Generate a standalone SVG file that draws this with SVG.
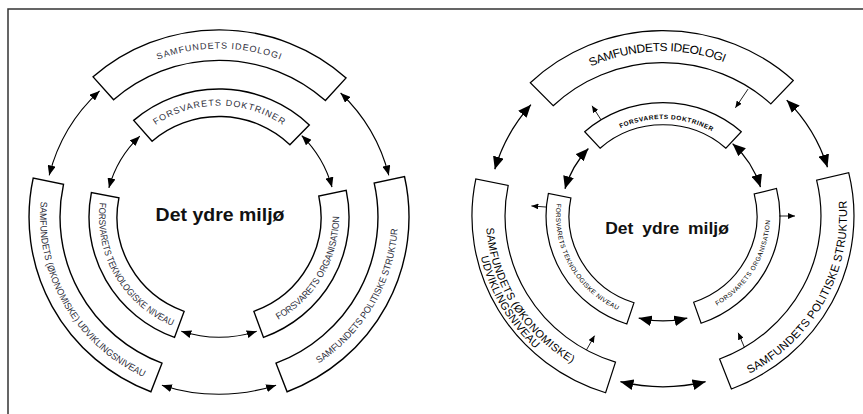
<svg xmlns="http://www.w3.org/2000/svg" width="863" height="414" viewBox="0 0 863 414">
<style>
  .sec{fill:#fff;stroke:#000;stroke-width:1.4;stroke-linejoin:miter}
  .sec2{fill:#fff;stroke:#000;stroke-width:1.2;stroke-linejoin:miter}
  .lt{font-family:"Liberation Sans",Arial,sans-serif;fill:#2d2d3a;font-size:9px}
  .ls{font-family:"Liberation Sans",Arial,sans-serif;fill:#2d2d3a;font-size:9.5px}
  .rt{font-family:"Liberation Sans",Arial,sans-serif;fill:#000}
  .ctr{font-family:"Liberation Sans",Arial,sans-serif;font-weight:bold;fill:#111;text-anchor:middle}
  .arrL{fill:none;stroke:#000;stroke-width:1.1;marker-start:url(#ahL);marker-end:url(#ahL)}
  .arrR{fill:none;stroke:#000;stroke-width:1.3;marker-start:url(#ahR);marker-end:url(#ahR)}
  .arrS{fill:none;stroke:#000;stroke-width:0.9;marker-end:url(#ahS)}
  .frame{fill:none;stroke:#333;stroke-width:1.5}
</style>
<defs>
  <marker id="ahL" viewBox="0 0 10 8" refX="10" refY="4" markerWidth="10" markerHeight="8" orient="auto-start-reverse" markerUnits="userSpaceOnUse"><path d="M0,0 L10,4 L0,8 Z" fill="#000"/></marker>
  <marker id="ahR" viewBox="0 0 13 11" refX="13" refY="5.5" markerWidth="13" markerHeight="11" orient="auto-start-reverse" markerUnits="userSpaceOnUse"><path d="M0,0 L13,5.5 L0,11 Z" fill="#000"/></marker>
  <marker id="ahS" viewBox="0 0 7 6" refX="7" refY="3" markerWidth="7" markerHeight="6" orient="auto" markerUnits="userSpaceOnUse"><path d="M0,0 L7,3 L0,6 Z" fill="#000"/></marker>
  <!-- left diagram text paths (local coords) -->
  <path id="lp-ideo" d="M-148.1,-85.5 A171,171 0 0 1 148.1,-85.5"/>
  <path id="lp-dokt" d="M-97.9,-56.5 A113,113 0 0 1 97.9,-56.5"/>
  <path id="lp-okon" d="M-168.2,-61.2 A179,179 0 0 0 -31.1,176.3"/>
  <path id="lp-tekn" d="M-112.8,-41.0 A120,120 0 0 0 -20.8,118.2"/>
  <path id="lp-org" d="M20.8,118.2 A120,120 0 0 0 112.8,-41.0"/>
  <path id="lp-pol" d="M31.1,176.3 A179,179 0 0 0 168.2,-61.2"/>
  <!-- right diagram text paths (local coords) -->
  <path id="rp-ideo" d="M-150.1,-79.8 A170,170 0 0 1 144.2,-90.1"/>
  <path id="rp-dokt" d="M-84.8,-53.0 A100,100 0 0 1 88.3,-46.9"/>
  <path id="rp-tekn" d="M-99.9,-38.3 A107,107 0 0 0 -20.4,105.0"/>
  <path id="rp-org" d="M16.7,105.7 A107,107 0 0 0 101.2,-34.8"/>
  <path id="rp-okon1" d="M-176.6,12.3 A177,177 0 0 0 -30.7,174.3"/>
  <path id="rp-okon2" d="M-182.2,42.1 A187,187 0 0 0 -32.5,184.2"/>
  <path id="rp-pol" d="M86.4,162.5 A184,184 0 0 0 172.9,-62.9"/>
</defs>

<rect width="863" height="414" fill="#fff"/>
<g id="frame">
  <path class="frame" d="M8,414 L8,9 L863,9"/>
</g>

<!-- LEFT DIAGRAM -->
<g id="left-diagram" transform="translate(219,217) scale(1,0.985)">
  <g id="l-ideologi">
    <path class="sec" d="M-125.9,-142.3 A190,190 0 0 1 127.1,-141.2 L106.4,-118.2 A159,159 0 0 0 -105.4,-119.1 Z"/>
    <text class="lt"><textPath href="#lp-ideo" startOffset="50%" text-anchor="middle" textLength="125">SAMFUNDETS IDEOLOGI</textPath></text>
  </g>
  <g id="l-politiske">
    <path class="sec" d="M185.5,-41.1 A190,190 0 0 1 68.1,177.4 L57.0,148.4 A159,159 0 0 0 155.2,-34.4 Z"/>
    <text class="ls"><textPath href="#lp-pol" startOffset="50%" text-anchor="middle" textLength="163" lengthAdjust="spacingAndGlyphs">SAMFUNDETS POLITISKE STRUKTUR</textPath></text>
  </g>
  <g id="l-okonomiske">
    <path class="sec" d="M-68.1,177.4 A190,190 0 0 1 -185.8,-39.5 L-155.5,-33.1 A159,159 0 0 0 -57.0,148.4 Z"/>
    <text class="ls"><textPath href="#lp-okon" startOffset="50%" text-anchor="middle" textLength="219" lengthAdjust="spacingAndGlyphs">SAMFUNDETS (ØKONOMISKE) UDVIKLINGSNIVEAU</textPath></text>
  </g>
  <g id="l-doktriner">
    <path class="sec" d="M-85.3,-98.1 A130,130 0 0 1 90.3,-93.5 L70.9,-73.4 A102,102 0 0 0 -66.9,-77.0 Z"/>
    <text class="lt"><textPath href="#lp-dokt" startOffset="50%" text-anchor="middle" textLength="135">FORSVARETS DOKTRINER</textPath></text>
  </g>
  <g id="l-organisation">
    <path class="sec" d="M127.2,-27.0 A130,130 0 0 1 44.5,122.2 L34.9,95.8 A102,102 0 0 0 99.8,-21.2 Z"/>
    <text class="ls"><textPath href="#lp-org" startOffset="50%" text-anchor="middle" textLength="127" lengthAdjust="spacingAndGlyphs">FORSVARETS ORGANISATION</textPath></text>
  </g>
  <g id="l-teknologiske">
    <path class="sec" d="M-44.5,122.2 A130,130 0 0 1 -127.6,-24.8 L-100.1,-19.5 A102,102 0 0 0 -34.9,95.8 Z"/>
    <text class="ls"><textPath href="#lp-tekn" startOffset="50%" text-anchor="middle" textLength="155" lengthAdjust="spacingAndGlyphs">FORSVARETS TEKNOLOGISKE NIVEAU</textPath></text>
  </g>
  <g id="l-center">
    <text class="ctr" x="1" y="4.5" font-size="19.5">Det ydre miljø</text>
  </g>
  <g id="l-connectors">
    <path class="arrL" d="M-169.8,-42.3 A175,175 0 0 1 -119.4,-128.0"/>
    <path class="arrL" d="M121.6,-125.9 A175,175 0 0 1 169.8,-42.3"/>
    <path class="arrL" d="M57.1,170.7 A180,180 0 0 1 -57.1,170.7"/>
    <path class="arrL" d="M-110.1,-29.5 A114,114 0 0 1 -79.2,-82.0"/>
    <path class="arrL" d="M82.7,-82.7 A117,117 0 0 1 113.0,-30.3"/>
    <path class="arrL" d="M37.7,116.0 A122,122 0 0 1 -37.7,116.0"/>
  </g>
</g>

<!-- RIGHT DIAGRAM -->
<g id="right-diagram" transform="translate(663,216) scale(1,0.97)">
  <g id="r-ideologi">
    <path class="sec2" d="M-132.7,-137.4 A191,191 0 0 1 130.3,-139.7 L107.8,-115.6 A158,158 0 0 0 -109.8,-113.7 Z"/>
    <text class="rt" font-size="12"><textPath href="#rp-ideo" startOffset="50%" text-anchor="middle" textLength="137">SAMFUNDETS IDEOLOGI</textPath></text>
  </g>
  <g id="r-okonomiske">
    <path class="sec2" d="M-57.4,182.2 A191,191 0 0 1 -187.2,-38.1 L-154.8,-31.5 A158,158 0 0 0 -47.5,150.7 Z"/>
    <text class="rt" font-size="11"><textPath href="#rp-okon1" textLength="170">SAMFUNDETS (ØKONOMISKE)</textPath></text>
    <text class="rt" font-size="11"><textPath href="#rp-okon2" textLength="111">UDVIKLINGSNIVEAU</textPath></text>
  </g>
  <g id="r-politiske">
    <path class="sec2" d="M185.7,-44.6 A191,191 0 0 1 68.4,178.3 L56.6,147.5 A158,158 0 0 0 153.6,-36.9 Z"/>
    <text class="rt" font-size="11.5"><textPath href="#rp-pol" textLength="215">SAMFUNDETS POLITISKE STRUKTUR</textPath></text>
  </g>
  <g id="r-doktriner">
    <path class="sec2" d="M-78.3,-86.9 A117,117 0 0 1 78.3,-86.9 L62.9,-69.9 A94,94 0 0 0 -62.9,-69.9 Z"/>
    <text class="rt" font-size="6.5" font-weight="bold"><textPath href="#rp-dokt" startOffset="50%" text-anchor="middle" textLength="95">FORSVARETS DOKTRINER</textPath></text>
  </g>
  <g id="r-teknologiske">
    <path class="sec2" d="M-36.2,111.3 A117,117 0 0 1 -114.6,-23.3 L-92.1,-18.7 A94,94 0 0 0 -29.0,89.4 Z"/>
    <text class="rt" font-size="6.5"><textPath href="#rp-tekn" startOffset="50%" text-anchor="middle" textLength="134">FORSVARETS TEKNOLOGISKE NIVEAU</textPath></text>
  </g>
  <g id="r-organisation">
    <path class="sec2" d="M113.5,-28.3 A117,117 0 0 1 38.1,110.6 L30.6,88.9 A94,94 0 0 0 91.2,-22.7 Z"/>
    <text class="rt" font-size="6.5"><textPath href="#rp-org" startOffset="50%" text-anchor="middle" textLength="107">FORSVARETS ORGANISATION</textPath></text>
  </g>
  <g id="r-center">
    <text class="ctr" x="4" y="18.5" font-size="17.5" word-spacing="4">Det ydre miljø</text>
  </g>
  <g id="r-connectors">
    <path class="arrR" d="M-168.2,-48.2 A175,175 0 0 1 -132.1,-114.8"/>
    <path class="arrR" d="M123.7,-119.5 A172,172 0 0 1 164.5,-50.3"/>
    <path class="arrR" d="M42.6,170.8 A176,176 0 0 1 -42.6,170.8"/>
    <path class="arrR" d="M-98.0,-28.1 A102,102 0 0 1 -74.6,-69.6"/>
    <path class="arrR" d="M69.6,-74.6 A102,102 0 0 1 97.5,-29.8"/>
    <path class="arrR" d="M24.3,105.2 A108,108 0 0 1 -24.3,105.2"/>
    <path class="arrS" d="M85.0,-130.8 L72.4,-111.5"/>
    <path class="arrS" d="M-62.0,-99.2 L-71.0,-113.6"/>
    <path class="arrS" d="M-116.6,-9.2 L-131.6,-10.4"/>
    <path class="arrS" d="M116,0 L132,0"/>
    <path class="arrS" d="M-76.6,138.2 L-68.4,123.3"/>
    <path class="arrS" d="M81.4,135.4 L75.2,120.4"/>
  </g>
</g>
</svg>
